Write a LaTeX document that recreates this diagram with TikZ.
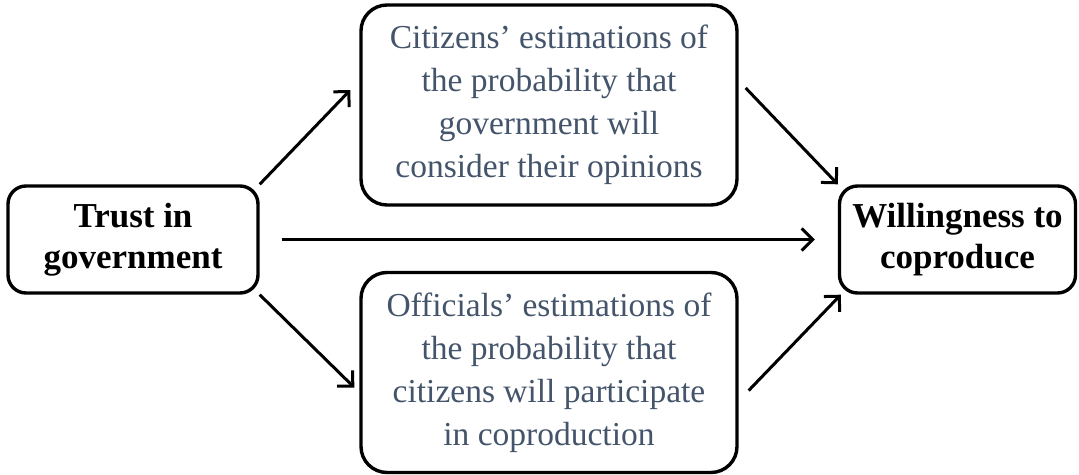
\documentclass[tikz,border=0pt]{standalone}
\usepackage{fontspec}
\setmainfont{Liberation Serif}
\usetikzlibrary{arrows.meta}
\definecolor{slate}{HTML}{44546A}
\begin{document}
\begin{tikzpicture}[x=1pt,y=-1pt,
  outer/.style={draw=black,line width=3.4pt,rounded corners=18pt,
    inner sep=0pt,align=center,font=\fontsize{35}{41}\selectfont\bfseries,
    minimum width=250pt,minimum height=107pt},
  middle/.style={draw=black,line width=3.4pt,rounded corners=26pt,
    inner sep=0pt,align=center,text=slate,font=\fontsize{33.5}{43}\selectfont,
    minimum width=376pt,minimum height=200pt},
  link/.style={line width=3pt,-{Straight Barb[length=11pt,width=22pt,line width=3pt]}}]
\useasboundingbox (0,0) rectangle (1079,474);

\node[outer] (trust) at (133,239.5) {Trust in\\government};
\node[outer,minimum width=236pt] (will) at (957.5,239.5) {Willingness to\\coproduce};
\node[middle] (cit) at (549,105) {Citizens’ estimations of\\the probability that\\government will\\consider their opinions};
\node[middle] (off) at (549,372.5) {Officials’ estimations of\\the probability that\\citizens will participate\\in coproduction};

\draw[link] (trust.north east) -- ([xshift=-9pt,yshift=15pt]cit.west);
\draw[link] (trust.south east) -- ([xshift=-5pt,yshift=-15pt]off.west);
\draw[link,shorten <=22pt,shorten >=23pt] (trust.east) -- (will.west);
\draw[link] ([xshift=7pt,yshift=17pt]cit.east) -- (will.north west);
\draw[link] ([xshift=10pt,yshift=-18pt]off.east) -- ([xshift=3pt]will.south west);
\end{tikzpicture}
\end{document}
